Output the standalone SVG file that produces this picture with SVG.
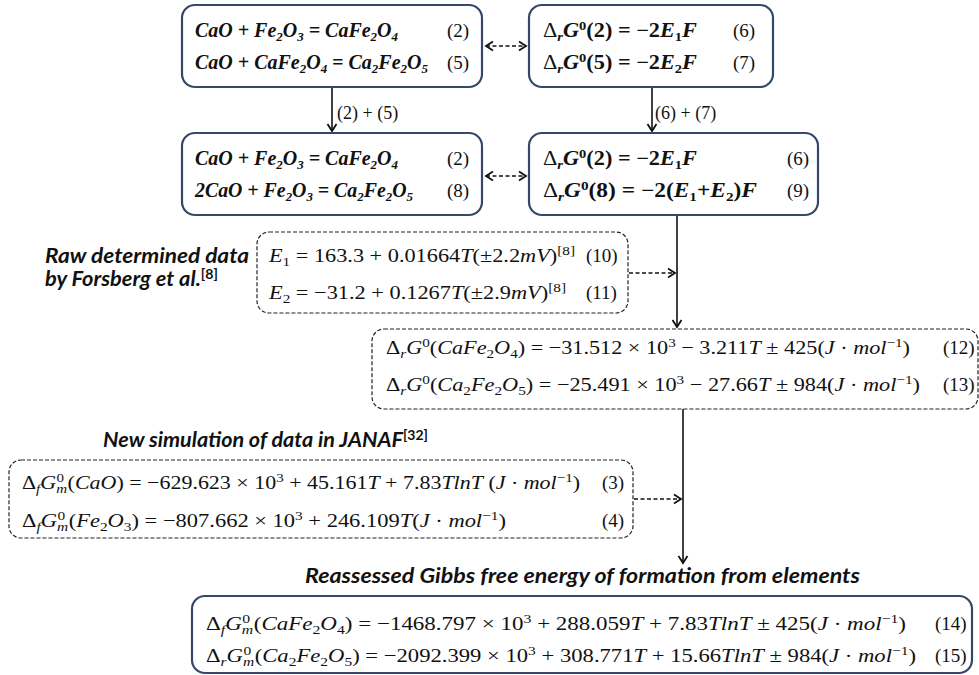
<svg xmlns="http://www.w3.org/2000/svg" width="979" height="675" viewBox="0 0 979 675">
<style>
  .box{fill:#fff;stroke:#34496a;stroke-width:2.2}
  .dbox{fill:#fff;stroke:#222;stroke-width:1.2;stroke-dasharray:4 2}
  .chem{font-family:"Liberation Serif",serif;font-weight:bold;font-style:italic;font-size:20px;fill:#111}
  .mb{font-family:"Liberation Serif",serif;font-weight:bold;font-size:20px;fill:#111}
  .m{font-family:"Liberation Serif",serif;font-size:19px;fill:#111}
  .no{font-family:"Liberation Serif",serif;font-size:19px;fill:#111}
  .lab{font-family:"Liberation Serif",serif;font-size:18px;fill:#111}
  .ttl{font-family:"Lato","Liberation Sans",sans-serif;font-weight:bold;font-style:italic;font-size:20px;fill:#111}
  .i{font-style:italic}
  .sb{font-size:13px;baseline-shift:-4px}
  .sp{font-size:13px;baseline-shift:7px}
  .conn{stroke:#111;stroke-width:1.6;fill:none}
  .dconn{stroke:#111;stroke-width:1.6;fill:none;stroke-dasharray:4 2.5}
</style>
<defs>
  <marker id="ah" markerWidth="12" markerHeight="12" refX="10" refY="6" orient="auto-start-reverse" markerUnits="userSpaceOnUse">
    <path d="M3,1.5 L10,6 L3,10.5" fill="none" stroke="#111" stroke-width="1.8"/>
  </marker>
</defs>

<g id="connectors">
  <line class="dconn" x1="486" y1="46" x2="526" y2="46" marker-start="url(#ah)" marker-end="url(#ah)"/>
  <line class="dconn" x1="486" y1="176" x2="526" y2="176" marker-start="url(#ah)" marker-end="url(#ah)"/>
  <line class="conn" x1="332" y1="87" x2="332" y2="131" marker-end="url(#ah)"/>
  <text class="lab" x="337" y="119">(2) + (5)</text>
  <line class="conn" x1="652" y1="87" x2="652" y2="131" marker-end="url(#ah)"/>
  <text class="lab" x="655" y="119">(6) + (7)</text>
  <line class="conn" x1="677" y1="215" x2="677" y2="327" marker-end="url(#ah)"/>
  <line class="dconn" x1="629" y1="273" x2="675" y2="273" marker-end="url(#ah)"/>
  <line class="conn" x1="683" y1="409" x2="683" y2="563" marker-end="url(#ah)"/>
  <line class="dconn" x1="634" y1="499" x2="681" y2="499" marker-end="url(#ah)"/>
</g>

<g id="box-a">
  <rect class="box" x="182" y="5" width="300" height="82" rx="13"/>
  <text class="chem" x="195" y="37" textLength="203" lengthAdjust="spacingAndGlyphs">CaO + Fe<tspan class="sb">2</tspan>O<tspan class="sb">3</tspan> = CaFe<tspan class="sb">2</tspan>O<tspan class="sb">4</tspan></text>
  <text class="no" x="447" y="37">(2)</text>
  <text class="chem" x="195" y="69" textLength="233" lengthAdjust="spacingAndGlyphs">CaO + CaFe<tspan class="sb">2</tspan>O<tspan class="sb">4</tspan> = Ca<tspan class="sb">2</tspan>Fe<tspan class="sb">2</tspan>O<tspan class="sb">5</tspan></text>
  <text class="no" x="447" y="69">(5)</text>
</g>

<g id="box-b">
  <rect class="box" x="529" y="5" width="244" height="82" rx="13"/>
  <text class="mb" x="543" y="37" textLength="154" lengthAdjust="spacingAndGlyphs"><tspan font-weight="normal">Δ</tspan><tspan class="sb i">r</tspan><tspan class="i">G</tspan><tspan class="sp">0</tspan>(2) = −2<tspan class="i">E</tspan><tspan class="sb">1</tspan><tspan class="i">F</tspan></text>
  <text class="no" x="733" y="37">(6)</text>
  <text class="mb" x="543" y="69" textLength="154" lengthAdjust="spacingAndGlyphs"><tspan font-weight="normal">Δ</tspan><tspan class="sb i">r</tspan><tspan class="i">G</tspan><tspan class="sp">0</tspan>(5) = −2<tspan class="i">E</tspan><tspan class="sb">2</tspan><tspan class="i">F</tspan></text>
  <text class="no" x="733" y="69">(7)</text>
</g>

<g id="box-c">
  <rect class="box" x="182" y="133" width="300" height="82" rx="13"/>
  <text class="chem" x="195" y="165" textLength="203" lengthAdjust="spacingAndGlyphs">CaO + Fe<tspan class="sb">2</tspan>O<tspan class="sb">3</tspan> = CaFe<tspan class="sb">2</tspan>O<tspan class="sb">4</tspan></text>
  <text class="no" x="447" y="165">(2)</text>
  <text class="chem" x="195" y="197" textLength="218" lengthAdjust="spacingAndGlyphs">2CaO + Fe<tspan class="sb">2</tspan>O<tspan class="sb">3</tspan> = Ca<tspan class="sb">2</tspan>Fe<tspan class="sb">2</tspan>O<tspan class="sb">5</tspan></text>
  <text class="no" x="447" y="197">(8)</text>
</g>

<g id="box-d">
  <rect class="box" x="529" y="133" width="289" height="82" rx="13"/>
  <text class="mb" x="543" y="165" textLength="154" lengthAdjust="spacingAndGlyphs"><tspan font-weight="normal">Δ</tspan><tspan class="sb i">r</tspan><tspan class="i">G</tspan><tspan class="sp">0</tspan>(2) = −2<tspan class="i">E</tspan><tspan class="sb">1</tspan><tspan class="i">F</tspan></text>
  <text class="no" x="787" y="165">(6)</text>
  <text class="mb" x="543" y="197" textLength="214" lengthAdjust="spacingAndGlyphs"><tspan font-weight="normal">Δ</tspan><tspan class="sb i">r</tspan><tspan class="i">G</tspan><tspan class="sp">0</tspan>(8) = −2(<tspan class="i">E</tspan><tspan class="sb">1</tspan>+<tspan class="i">E</tspan><tspan class="sb">2</tspan>)<tspan class="i">F</tspan></text>
  <text class="no" x="787" y="197">(9)</text>
</g>

<g id="label-raw">
  <text class="ttl" x="45" y="263" textLength="204" lengthAdjust="spacingAndGlyphs">Raw determined data</text>
  <text class="ttl" x="45" y="286" textLength="173" lengthAdjust="spacingAndGlyphs">by Forsberg et al.<tspan font-size="13px" font-style="normal" baseline-shift="7px">[8]</tspan></text>
</g>

<g id="box-e">
  <rect class="dbox" x="257" y="232" width="371" height="81" rx="12"/>
  <text class="m" x="269" y="262" textLength="306" lengthAdjust="spacingAndGlyphs"><tspan class="i">E</tspan><tspan class="sb">1</tspan> = 163.3 + 0.01664<tspan class="i">T</tspan>(±2.2<tspan class="i">mV</tspan>)<tspan class="sp">[8]</tspan></text>
  <text class="no" x="586" y="262">(10)</text>
  <text class="m" x="269" y="299" textLength="297" lengthAdjust="spacingAndGlyphs"><tspan class="i">E</tspan><tspan class="sb">2</tspan> = −31.2 + 0.1267<tspan class="i">T</tspan>(±2.9<tspan class="i">mV</tspan>)<tspan class="sp">[8]</tspan></text>
  <text class="no" x="586" y="299">(11)</text>
</g>

<g id="box-f">
  <rect class="dbox" x="372" y="329" width="606" height="80" rx="12"/>
  <text class="m" x="386" y="354" textLength="524" lengthAdjust="spacingAndGlyphs">Δ<tspan class="sb i">r</tspan><tspan class="i">G</tspan><tspan class="sp">0</tspan>(<tspan class="i">CaFe</tspan><tspan class="sb">2</tspan><tspan class="i">O</tspan><tspan class="sb">4</tspan>) = −31.512 × 10<tspan class="sp">3</tspan> − 3.211<tspan class="i">T</tspan> ± 425(<tspan class="i">J</tspan> · <tspan class="i">mol</tspan><tspan class="sp">−1</tspan>)</text>
  <text class="no" x="943" y="354">(12)</text>
  <text class="m" x="386" y="391" textLength="534" lengthAdjust="spacingAndGlyphs">Δ<tspan class="sb i">r</tspan><tspan class="i">G</tspan><tspan class="sp">0</tspan>(<tspan class="i">Ca</tspan><tspan class="sb">2</tspan><tspan class="i">Fe</tspan><tspan class="sb">2</tspan><tspan class="i">O</tspan><tspan class="sb">5</tspan>) = −25.491 × 10<tspan class="sp">3</tspan> − 27.66<tspan class="i">T</tspan> ± 984(<tspan class="i">J</tspan> · <tspan class="i">mol</tspan><tspan class="sp">−1</tspan>)</text>
  <text class="no" x="943" y="391">(13)</text>
</g>

<g id="label-janaf">
  <text class="ttl" x="103" y="447" textLength="325" lengthAdjust="spacingAndGlyphs">New simulation of data in JANAF<tspan font-size="13px" font-style="normal" baseline-shift="7px">[32]</tspan></text>
</g>

<g id="box-g">
  <rect class="dbox" x="9" y="460" width="624" height="78" rx="12"/>
  <text class="m" x="22" y="489" textLength="558" lengthAdjust="spacingAndGlyphs">Δ<tspan class="sb i">f</tspan><tspan class="i">G</tspan><tspan class="sb i">m</tspan><tspan class="sp" dx="-9">0</tspan><tspan dx="3">(</tspan><tspan class="i">CaO</tspan>) = −629.623 × 10<tspan class="sp">3</tspan> + 45.161<tspan class="i">T</tspan> + 7.83<tspan class="i">TlnT</tspan> (<tspan class="i">J</tspan> · <tspan class="i">mol</tspan><tspan class="sp">−1</tspan>)</text>
  <text class="no" x="602" y="489">(3)</text>
  <text class="m" x="22" y="527" textLength="484" lengthAdjust="spacingAndGlyphs">Δ<tspan class="sb i">f</tspan><tspan class="i">G</tspan><tspan class="sb i">m</tspan><tspan class="sp" dx="-9">0</tspan><tspan dx="3">(</tspan><tspan class="i">Fe</tspan><tspan class="sb">2</tspan><tspan class="i">O</tspan><tspan class="sb">3</tspan>) = −807.662 × 10<tspan class="sp">3</tspan> + 246.109<tspan class="i">T</tspan>(<tspan class="i">J</tspan> · <tspan class="i">mol</tspan><tspan class="sp">−1</tspan>)</text>
  <text class="no" x="602" y="527">(4)</text>
</g>

<g id="label-reassessed">
  <text class="ttl" x="305" y="583" textLength="555" lengthAdjust="spacingAndGlyphs">Reassessed Gibbs free energy of formation from elements</text>
</g>

<g id="box-h">
  <rect class="box" x="192" y="596" width="780" height="77" rx="13"/>
  <text class="m" x="206" y="630" textLength="700" lengthAdjust="spacingAndGlyphs">Δ<tspan class="sb i">f</tspan><tspan class="i">G</tspan><tspan class="sb i">m</tspan><tspan class="sp" dx="-9">0</tspan><tspan dx="3">(</tspan><tspan class="i">CaFe</tspan><tspan class="sb">2</tspan><tspan class="i">O</tspan><tspan class="sb">4</tspan>)  = −1468.797 × 10<tspan class="sp">3</tspan> + 288.059<tspan class="i">T</tspan> + 7.83<tspan class="i">TlnT</tspan> ± 425(<tspan class="i">J</tspan> · <tspan class="i">mol</tspan><tspan class="sp">−1</tspan>)</text>
  <text class="no" x="935" y="630">(14)</text>
  <text class="m" x="206" y="662" textLength="710" lengthAdjust="spacingAndGlyphs">Δ<tspan class="sb i">r</tspan><tspan class="i">G</tspan><tspan class="sb i">m</tspan><tspan class="sp" dx="-9">0</tspan><tspan dx="3">(</tspan><tspan class="i">Ca</tspan><tspan class="sb">2</tspan><tspan class="i">Fe</tspan><tspan class="sb">2</tspan><tspan class="i">O</tspan><tspan class="sb">5</tspan>) = −2092.399 × 10<tspan class="sp">3</tspan> + 308.771<tspan class="i">T</tspan> + 15.66<tspan class="i">TlnT</tspan> ± 984(<tspan class="i">J</tspan> · <tspan class="i">mol</tspan><tspan class="sp">−1</tspan>)</text>
  <text class="no" x="935" y="662">(15)</text>
</g>
</svg>
